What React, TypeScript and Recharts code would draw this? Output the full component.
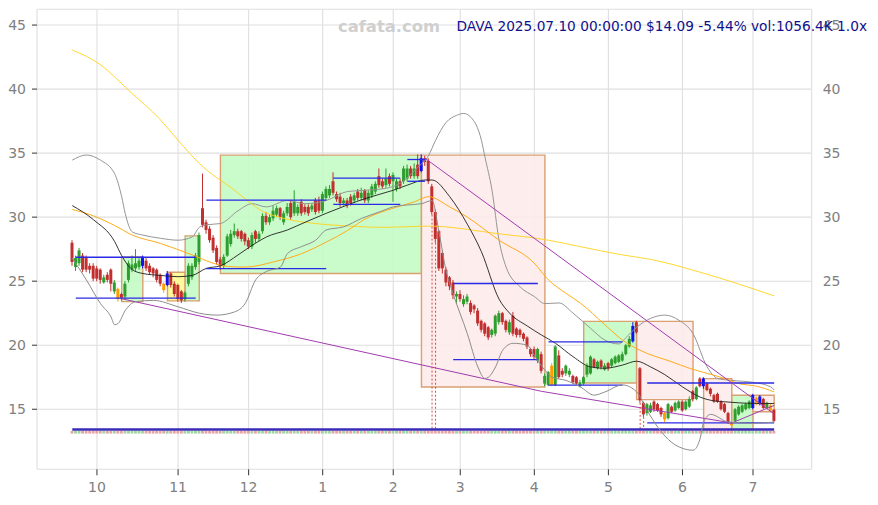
import React from 'react';
import {
  ComposedChart,
  Bar,
  Line,
  XAxis,
  YAxis,
  CartesianGrid,
  ReferenceArea,
  ReferenceLine,
} from 'recharts';

// ---------- price data (trading-day index 0 = 2024-09-20 ... 199 = 2025-07-10) ----------
const opens = [
  28.0, 26.1, 26.4, 27.0, 26.8, 26.2, 26.2, 26.0, 25.9, 24.9,
  25.5, 25.9, 24.2, 24.4, 24.0, 23.8, 25.1, 25.9, 26.0, 26.1,
  26.2, 26.6, 26.2, 26.0, 25.9, 25.5, 24.8, 24.7, 25.6, 24.8,
  24.7, 24.2, 23.6, 24.8, 25.3, 26.1, 26.5, 30.7, 29.6, 29.1,
  28.4, 27.6, 26.7, 26.2, 27.0, 27.9, 28.6, 28.9, 28.9, 28.7,
  28.2, 27.7, 28.9, 28.3, 28.9, 30.1, 29.6, 29.9, 30.2, 30.7,
  29.6, 30.3, 31.1, 30.3, 30.3, 31.2, 30.8, 30.8, 30.6, 31.3,
  31.3, 30.5, 31.5, 31.7, 32.8, 31.8, 31.6, 31.1, 31.3, 31.6,
  31.3, 32.0, 31.5, 32.1, 31.3, 31.7, 32.0, 33.2, 32.8, 32.5,
  33.2, 32.8, 32.2, 32.8, 32.8, 33.0, 33.8, 33.2, 34.1, 33.6,
  34.6, 34.4, 32.4, 30.4, 28.9, 27.2, 25.9, 25.3, 24.9, 23.8,
  24.0, 23.2, 23.4, 23.3, 23.1, 22.7, 21.9, 21.7, 21.4, 20.8,
  20.9, 21.8, 22.5, 21.9, 21.0, 22.3, 21.3, 21.2, 20.9, 20.6,
  19.7, 19.7, 18.8, 19.3, 17.0, 16.9, 16.9, 16.9, 19.2, 18.0,
  17.8, 17.7, 17.6, 17.5, 16.8, 17.0, 17.7, 17.8, 18.9, 18.2,
  18.8, 18.1, 18.6, 18.4, 18.6, 18.7, 18.8, 19.3, 19.9, 20.3,
  21.8, 18.2, 15.5, 14.7, 14.8, 15.6, 15.4, 15.1, 14.7, 14.3,
  15.2, 14.9, 15.1, 15.6, 15.0, 15.2, 16.4, 15.8, 17.4, 16.8,
  17.0, 16.6, 16.1, 16.2, 15.6, 15.4, 14.7, 13.95, 14.1, 14.6,
  14.8, 15.0, 15.1, 15.1, 15.4, 15.4, 15.8, 15.1, 15.3, 14.97,
];
const closes = [
  26.5, 26.8, 27.4, 25.9, 25.9, 25.9, 25.2, 25.2, 25.1, 25.3,
  25.1, 24.8, 24.9, 23.6, 23.7, 24.8, 26.4, 26.3, 26.4, 26.6,
  26.9, 26.0, 25.7, 25.6, 25.1, 24.8, 24.3, 25.6, 24.7, 24.0,
  23.6, 23.5, 24.1, 26.2, 26.2, 27.0, 28.6, 29.4, 29.0, 28.2,
  27.4, 26.5, 26.2, 26.9, 28.5, 28.7, 28.9, 28.5, 28.3, 28.1,
  27.7, 28.6, 28.3, 28.7, 30.1, 29.6, 30.0, 30.5, 30.7, 30.0,
  30.3, 30.8, 30.0, 31.2, 30.8, 30.3, 30.4, 30.3, 30.9, 30.4,
  30.5, 31.8, 32.2, 32.2, 31.9, 31.4, 31.1, 31.3, 30.9, 31.1,
  31.7, 31.5, 31.9, 31.3, 31.9, 32.4, 32.6, 32.5, 32.4, 33.0,
  32.6, 33.3, 32.8, 32.4, 33.8, 33.8, 33.2, 33.8, 33.2, 34.6,
  34.3, 32.8, 30.4, 28.3, 26.0, 26.0, 24.9, 24.6, 23.9, 24.0,
  23.6, 23.6, 23.8, 22.6, 22.8, 21.7, 21.2, 20.9, 20.6, 21.2,
  22.3, 22.5, 21.8, 21.2, 21.8, 20.9, 20.8, 20.8, 20.5, 19.9,
  19.3, 19.1, 19.7, 18.0, 17.6, 17.9, 18.4, 19.9, 17.5, 17.7,
  18.4, 18.0, 17.1, 17.0, 17.1, 17.5, 18.4, 19.1, 18.3, 18.7,
  18.3, 18.4, 18.2, 18.9, 19.1, 19.2, 19.3, 20.0, 20.5, 21.5,
  21.0, 15.7, 14.6, 15.4, 15.3, 15.0, 14.9, 14.6, 14.2, 15.4,
  14.8, 15.5, 15.6, 14.9, 15.6, 15.8, 15.8, 16.7, 16.8, 17.4,
  16.5, 16.2, 15.6, 15.6, 15.0, 14.8, 13.95, 13.75, 15.0, 15.2,
  15.3, 15.4, 15.6, 16.1, 15.9, 16.0, 15.1, 15.5, 14.9, 14.09,
];
const highs = [
  28.2, 27.0, 27.6, 27.2, 27.0, 26.4, 26.4, 26.2, 26.0, 25.5,
  25.7, 26.0, 25.1, 24.5, 24.1, 25.0, 26.6, 27.0, 27.5, 26.8,
  27.0, 26.8, 26.4, 26.1, 26.0, 25.6, 24.9, 25.8, 25.7, 25.0,
  24.8, 24.3, 24.2, 26.4, 26.4, 27.2, 28.8, 33.4, 29.8, 29.3,
  28.6, 27.8, 26.9, 27.1, 28.7, 29.0, 29.5, 29.1, 29.0, 28.8,
  28.4, 28.8, 29.0, 28.9, 30.3, 30.4, 30.2, 30.9, 30.9, 30.8,
  30.5, 31.1, 31.3, 32.1, 31.0, 31.4, 31.0, 31.0, 31.1, 31.5,
  31.6, 32.0, 32.4, 32.5, 33.5, 32.0, 31.9, 31.5, 31.5, 31.8,
  31.9, 32.2, 32.3, 32.2, 32.1, 32.6, 32.8, 33.8, 33.0, 33.8,
  33.4, 33.5, 33.0, 33.0, 34.0, 34.1, 34.0, 34.2, 34.9, 34.9,
  34.8, 34.6, 32.6, 30.6, 29.0, 27.4, 26.1, 25.4, 25.1, 24.2,
  24.3, 23.9, 24.0, 23.5, 23.2, 22.9, 22.0, 21.8, 21.5, 21.3,
  22.4, 22.7, 22.6, 22.0, 22.0, 22.6, 21.4, 21.3, 21.0, 20.7,
  19.8, 19.9, 19.8, 19.5, 17.8, 18.0, 18.6, 20.0, 19.6, 18.2,
  18.5, 18.2, 17.7, 17.6, 17.3, 17.6, 18.6, 19.2, 19.0, 18.8,
  18.9, 18.6, 18.7, 19.0, 19.2, 19.3, 19.5, 20.1, 20.7, 21.8,
  21.9, 18.3, 15.6, 15.5, 15.5, 15.7, 15.5, 15.2, 14.8, 15.5,
  15.3, 15.6, 15.7, 15.7, 15.7, 16.0, 16.5, 16.8, 17.5, 17.5,
  17.1, 16.7, 16.2, 16.3, 15.7, 15.5, 14.8, 14.0, 15.1, 15.3,
  15.4, 15.5, 15.7, 16.2, 16.0, 16.1, 15.9, 15.6, 15.4, 15.0,
];
const lows = [
  26.2, 25.8, 26.2, 25.7, 25.7, 25.6, 25.0, 25.0, 24.8, 24.8,
  24.9, 24.2, 24.0, 23.4, 23.5, 23.6, 24.9, 25.7, 25.8, 25.9,
  26.0, 25.8, 25.5, 25.3, 24.9, 24.6, 24.1, 24.6, 24.5, 23.8,
  23.4, 23.3, 23.4, 24.6, 25.1, 25.9, 26.3, 29.2, 28.7, 28.0,
  27.2, 26.3, 25.9, 26.0, 26.9, 27.7, 28.4, 28.3, 28.1, 27.8,
  27.5, 27.5, 28.0, 28.1, 28.7, 29.4, 29.4, 29.7, 30.0, 29.8,
  29.4, 30.1, 29.8, 30.1, 30.1, 30.1, 30.2, 30.1, 30.4, 30.2,
  30.3, 30.3, 31.3, 31.5, 31.7, 31.2, 30.8, 30.9, 30.7, 30.9,
  31.1, 31.3, 31.3, 31.1, 31.1, 31.5, 31.8, 32.3, 32.2, 32.3,
  32.4, 31.2, 32.0, 32.2, 32.6, 32.8, 33.0, 33.0, 33.0, 33.5,
  34.0, 32.6, 30.2, 28.0, 25.8, 25.6, 24.6, 24.3, 23.6, 23.2,
  23.4, 23.0, 23.2, 22.4, 22.5, 21.5, 21.0, 20.7, 20.4, 20.6,
  20.7, 21.6, 21.6, 21.0, 20.8, 20.7, 20.6, 20.6, 20.3, 19.7,
  19.1, 18.9, 18.6, 17.8, 16.8, 16.8, 16.8, 16.8, 17.4, 17.5,
  17.6, 17.5, 17.0, 16.9, 16.7, 16.9, 17.5, 17.7, 18.2, 18.1,
  18.1, 18.0, 18.0, 18.3, 18.5, 18.6, 18.7, 19.2, 19.8, 20.2,
  20.9, 15.5, 14.4, 14.5, 14.7, 14.8, 14.8, 14.4, 14.0, 14.2,
  14.7, 14.8, 15.0, 14.8, 14.9, 15.1, 15.6, 15.7, 16.7, 16.6,
  16.4, 16.0, 15.5, 15.5, 14.9, 14.7, 13.85, 13.4, 14.0, 14.5,
  14.7, 14.9, 15.0, 15.0, 15.3, 15.3, 15.0, 15.0, 14.8, 14.0,
];
const blueBars = [20, 27, 99, 159, 179, 193, 195];
const orangeBars = [13, 26, 136, 168, 187, 194, 198];

// ---------- axis ticks ----------
const monthTickIdx = [7, 30, 50, 71, 91, 110, 131, 152, 173, 193];
const monthLabels = ['10', '11', '12', '1', '2', '3', '4', '5', '6', '7'];
const priceTicks = [15, 20, 25, 30, 35, 40, 45];

// ---------- indicator readings (bar index, value) ----------
const maShortIdx = [0, 6, 12, 14, 17, 20, 25, 30, 34, 38, 42, 47, 51, 55, 61, 66, 72, 78, 83, 91, 95, 100, 102, 107, 112, 116, 121, 124, 129, 133, 137, 142, 147, 151, 156, 160, 164, 168, 173, 178, 182, 185, 189, 194, 199];
const maShortVal = [30.9, 29.8, 28.1, 27.0, 25.9, 25.6, 25.45, 25.35, 25.45, 26.0, 26.2, 27.05, 27.8, 28.45, 29.0, 29.6, 30.3, 30.95, 31.45, 32.1, 32.5, 32.9, 32.9, 31.6, 29.45, 27.3, 23.6, 22.5, 21.5, 20.8, 20.15, 19.1, 18.3, 18.2, 18.45, 18.75, 18.3, 17.7, 16.75, 15.95, 15.65, 15.58, 15.5, 15.45, 15.45];

const maMidIdx = [0, 6, 12, 17, 25, 34, 40, 44, 49, 57, 65, 72, 78, 83, 91, 97, 101, 107, 112, 121, 131, 135, 140, 144, 151, 156, 161, 170, 175, 180, 185, 189, 194, 199];
const maMidVal = [30.6, 30.1, 29.35, 28.6, 27.95, 27.05, 26.4, 26.15, 26.1, 26.5, 27.15, 28.05, 28.95, 29.85, 30.7, 31.2, 31.6, 30.8, 30.0, 28.2, 26.4, 25.1, 24.05, 23.3, 21.6, 20.4, 19.6, 18.7, 18.2, 17.8, 17.4, 17.0, 16.8, 16.35];

const maLongIdx = [0, 8, 16, 25, 30, 36, 46, 54, 60, 69, 79, 88, 101, 121, 135, 144, 156, 164, 178, 199];
const maLongVal = [43.05, 41.9, 39.9, 37.6, 36.0, 34.2, 32.1, 30.45, 29.9, 29.5, 29.3, 29.2, 29.3, 28.7, 28.2, 27.7, 27.05, 26.7, 25.7, 23.85];

const bbUpIdx = [0, 4, 8, 12, 14, 15, 17, 20, 25, 30, 34, 36, 38, 42, 47, 51, 55, 61, 66, 72, 78, 83, 89, 93, 98, 101, 103, 106, 109, 111, 113, 116, 117, 119, 121, 123, 127, 131, 134, 138, 142, 147, 151, 155, 157, 160, 164, 168, 172, 176, 180, 183, 187, 193, 198, 199];
const bbUpVal = [34.45, 34.85, 34.45, 33.4, 31.6, 30.3, 28.85, 28.6, 28.35, 28.2, 28.45, 29.2, 29.4, 29.5, 30.5, 31.05, 30.8, 31.3, 31.05, 31.3, 32.0, 32.1, 32.25, 32.65, 33.9, 34.8, 36.0, 37.4, 37.95, 38.1, 37.8, 36.0, 34.7, 32.1, 28.2, 26.1, 24.55, 23.8, 23.25, 23.3, 22.5, 21.3, 20.4, 20.1, 20.6, 21.4, 22.1, 22.35, 21.95, 20.9, 18.3, 17.4, 17.25, 17.1, 16.75, 16.5];

const bbLowIdx = [0, 4, 8, 11, 12, 13, 15, 18, 23, 30, 36, 41, 46, 49, 52, 55, 59, 61, 65, 69, 72, 77, 82, 87, 91, 95, 99, 102, 104, 106, 108, 112, 115, 117, 118, 120, 122, 125, 129, 131, 134, 136, 140, 144, 148, 151, 156, 160, 163, 166, 170, 173, 176, 178, 179, 181, 186, 193, 199];
const bbLowVal = [26.8, 25.1, 23.25, 22.2, 21.6, 21.7, 22.7, 23.4, 23.5, 23.0, 22.5, 22.35, 22.6, 23.25, 25.1, 25.75, 26.1, 27.15, 27.7, 28.2, 29.0, 29.25, 29.9, 30.4, 30.8, 30.95, 31.05, 31.3, 28.8, 25.8, 24.0, 20.9, 18.3, 17.4, 17.5, 18.3, 19.6, 20.15, 20.0, 19.2, 18.05, 17.5, 17.25, 16.75, 16.1, 16.35, 16.9, 16.35, 14.9, 13.6, 12.4, 11.95, 11.8, 12.7, 14.0, 14.6, 14.0, 13.9, 14.0];

// ---------- zones (bar index range, price range) ----------
const zoneFrom = [14, 27, 32, 42, 99, 145, 160, 179, 187, 193];
const zoneTo = [20, 32, 36, 99, 134, 160, 176, 187, 193, 199];
const zoneTop = [26.9, 25.7, 28.54, 34.84, 34.84, 21.86, 21.86, 17.39, 16.09, 16.09];
const zoneBottom = [23.4, 23.46, 23.46, 25.6, 16.74, 17.05, 15.75, 13.41, 13.41, 14.8];
const zoneKind = ['up', 'flat', 'up', 'up', 'down', 'up', 'down', 'down', 'up', 'down'];

// ---------- support / resistance levels ----------
const levelFrom = [1, 1, 38, 38, 74, 74, 95, 95, 108, 108, 135, 135, 163, 163];
const levelTo = [35, 35, 72, 72, 93, 93, 100, 100, 132, 132, 156, 156, 199, 199];
const levelPrice = [26.87, 23.67, 31.33, 25.98, 33.05, 31.0, 34.5, 32.8, 24.82, 18.88, 20.26, 16.88, 17.05, 13.93];

// ---------- trend lines ----------
const trendX1 = [14, 133, 100, 187];
const trendY1 = [23.63, 16.4, 34.6, 13.93];
const trendX2 = [133, 187, 199, 199];
const trendY2 = [16.4, 13.93, 14.63, 15.3];

// ---------- gap markers ----------
const gapIdx = [102, 103, 161, 162];
const baseLevel = 13.42;
const stripTop = 13.3;
const stripBottom = 13.1;

// ---------- header ----------
const ticker = 'DAVA';
const stamp = '2025.07.10 00:00:00';
const lastPrice = 14.09;
const changePct = -5.44;
const volume = '1056.4K';
const ratio = '1.0x';

const GREEN = '#2f9e2f';
const RED = '#c22f2f';
const BLUE = '#1010f0';
const ORANGE = '#ff9d00';
const FONT = 'DejaVu Sans';

const blueSet = new Set(blueBars);
const orangeSet = new Set(orangeBars);

const candleData = opens.map((o, i) => ({
  x: i,
  open: o,
  close: closes[i],
  high: highs[i],
  low: lows[i],
  range: [lows[i], highs[i]],
}));

const pts = (xs: number[], ys: number[]) => xs.map((x, k) => ({ x, v: ys[k] }));

const CandleShape = (props: any) => {
  const { x, y, width, height, payload } = props;
  if (!payload || x == null || y == null) return null;
  const { open, close, high, low, x: idx } = payload;
  const top = Math.min(y, y + height);
  const h = Math.abs(height);
  const span = high - low || 1;
  const py = (v: number) => top + ((high - v) / span) * h;
  const cx = x + width / 2;
  const up = close >= open;
  let color = up ? GREEN : RED;
  if (blueSet.has(idx)) color = BLUE;
  else if (orangeSet.has(idx)) color = ORANGE;
  const bTop = py(Math.max(open, close));
  const bBot = py(Math.min(open, close));
  const bw = 3;
  return (
    <g>
      <rect
        x={cx - 1.4}
        y={py(stripTop)}
        width={2.8}
        height={py(stripBottom) - py(stripTop)}
        fill={up ? '#9fd39f' : '#e6a3a3'}
      />
      <line x1={cx} x2={cx} y1={py(high)} y2={py(low)} stroke={color} strokeWidth={1} />
      <rect x={cx - bw / 2} y={bTop} width={bw} height={Math.max(bBot - bTop, 0.9)} fill={color} />
    </g>
  );
};

const zoneFill: Record<string, string> = { up: '#c3fac3', down: '#fdebe9', flat: '#fdfa8e' };

export default function App() {
  const title = `${ticker} ${stamp} $${lastPrice.toFixed(2)} ${changePct.toFixed(2)}% vol:${volume} ${ratio}`;
  const tickStyle = { fill: '#808080', fontSize: 14, fontFamily: FONT };
  return (
    <div style={{ position: 'relative', width: 862, height: 489 }}>
      <ComposedChart
        width={862}
        height={489}
        data={candleData}
        margin={{ top: 1.3, right: 0, bottom: 0, left: 0 }}
      >
        <CartesianGrid stroke="#dfdfdf" strokeWidth={1.1} />
        <XAxis
          dataKey="x"
          type="number"
          domain={[-10, 209.64]}
          allowDataOverflow
          ticks={monthTickIdx}
          interval={0}
          tickFormatter={(v: number) => monthLabels[monthTickIdx.indexOf(v)]}
          axisLine={false}
          tickLine={{ stroke: '#333' }}
          tickSize={6}
          tickMargin={7}
          height={27.7}
          tick={tickStyle}
        />
        <YAxis
          type="number"
          domain={[10.31, 46.23]}
          allowDataOverflow
          ticks={priceTicks}
          interval={0}
          width={29}
          axisLine={false}
          tickLine={{ stroke: '#333' }}
          tickSize={5}
          tickMargin={6}
          tick={tickStyle}
        />
        <YAxis
          yAxisId="r"
          orientation="right"
          type="number"
          domain={[10.31, 46.23]}
          allowDataOverflow
          ticks={priceTicks}
          interval={0}
          width={58.3}
          axisLine={false}
          tickLine={false}
          tickSize={6}
          tickMargin={5}
          tick={tickStyle}
        />
        {zoneFrom.map((f, k) => (
          <ReferenceArea
            key={`z${k}`}
            x1={f}
            x2={zoneTo[k]}
            y1={zoneBottom[k]}
            y2={zoneTop[k]}
            fill={zoneFill[zoneKind[k]]}
            fillOpacity={0.88}
            stroke="#d9a072"
            strokeWidth={1.4}
          />
        ))}
        <Line name="bbUp" data={pts(bbUpIdx, bbUpVal)} dataKey="v" type="monotone" dot={false} stroke="#959595" strokeWidth={1} isAnimationActive={false} />
        <Line name="maLong" data={pts(maLongIdx, maLongVal)} dataKey="v" type="monotone" dot={false} stroke="#ffd21a" strokeWidth={0.9} isAnimationActive={false} />
        <Line name="maMid" data={pts(maMidIdx, maMidVal)} dataKey="v" type="monotone" dot={false} stroke="#ffab1a" strokeWidth={1} isAnimationActive={false} />
        <Line name="maShort" data={pts(maShortIdx, maShortVal)} dataKey="v" type="monotone" dot={false} stroke="#1f1f1f" strokeWidth={0.9} isAnimationActive={false} />
        {levelFrom.map((f, k) => (
          <ReferenceLine
            key={`l${k}`}
            segment={[{ x: f, y: levelPrice[k] }, { x: levelTo[k], y: levelPrice[k] }]}
            stroke="#2a2ae6"
            strokeWidth={1.3}
          />
        ))}
        {trendX1.map((x1, k) => (
          <ReferenceLine
            key={`t${k}`}
            segment={[{ x: x1, y: trendY1[k] }, { x: trendX2[k], y: trendY2[k] }]}
            stroke="#a23cb0"
            strokeWidth={1}
          />
        ))}
        {gapIdx.map((g) => (
          <ReferenceLine
            key={`g${g}`}
            segment={[{ x: g, y: lows[g] }, { x: g, y: baseLevel }]}
            stroke="#e04848"
            strokeDasharray="2 2"
            strokeWidth={1}
          />
        ))}
        <ReferenceLine
          segment={[{ x: 0, y: baseLevel }, { x: 199, y: baseLevel }]}
          stroke="#3a2ab8"
          strokeWidth={2.4}
        />
        <Bar dataKey="range" barSize={3} shape={<CandleShape />} isAnimationActive={false} />
        <Line name="bbLow" data={pts(bbLowIdx, bbLowVal)} dataKey="v" type="monotone" dot={false} stroke="#8c8c8c" strokeWidth={1} isAnimationActive={false} />
      </ComposedChart>
      <svg
        width={862}
        height={489}
        style={{ position: 'absolute', left: 0, top: 0, pointerEvents: 'none' }}
      >
        <text x={381} y={24} textAnchor="middle" fontFamily={FONT} fontWeight="bold" fontSize={16.4} fill="#cfcfcf">
          cafata.com
        </text>
        <text x={859} y={23} textAnchor="end" fontFamily={FONT} fontSize={13.7} fill="#10108c">
          {title}
        </text>
      </svg>
    </div>
  );
}
